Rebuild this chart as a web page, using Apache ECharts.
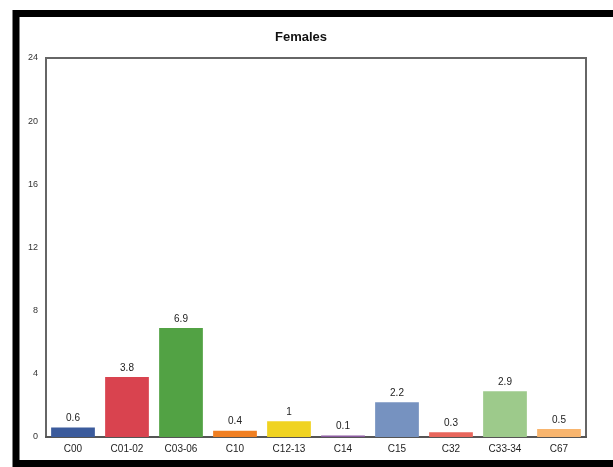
<!DOCTYPE html>
<html><head><meta charset="utf-8">
<script src="https://cdn.jsdelivr.net/npm/echarts@6/dist/echarts.min.js"></script>
<style>html,body{margin:0;padding:0;background:#fff}#c{width:613px;height:467px}</style>
</head><body><div id="c"></div>
<script>
const categories = ['C00','C01-02','C03-06','C10','C12-13','C14','C15','C32','C33-34','C67'];
const values = [0.6, 3.8, 6.9, 0.4, 1, 0.1, 2.2, 0.3, 2.9, 0.5];
const barColors = ['#3b5b9c','#d9434f','#52a244','#f07f22','#f0d321','#8b5aa0','#7692c0','#e8665c','#9dca8b','#f8b56e'];
const yTicks = [0, 4, 8, 12, 16, 20, 24];
const chart = echarts.init(document.getElementById('c'));
chart.setOption({
  backgroundColor: '#fff',
  animation: false,
  title: { text: 'Females', left: 296, top: 26, textAlign: 'center',
    textStyle: { fontFamily: 'Liberation Sans', fontSize: 13, fontWeight: 'bold', color: '#111' } },
  graphic: [{ type: 'rect', shape: { x: 16, y: 13.5, width: 700, height: 450 },
    style: { fill: 'none', stroke: '#000', lineWidth: 7 }, silent: true }],
  grid: { left: 46, right: 27, top: 58, bottom: 30, show: true, borderColor: '#666', borderWidth: 2, backgroundColor: 'transparent' },
  xAxis: { type: 'category', data: categories,
    axisLine: { lineStyle: { color: '#555', width: 2 } }, axisTick: { show: false },
    axisLabel: { fontFamily: 'Liberation Sans', fontSize: 10, color: '#222', margin: 7 } },
  yAxis: { type: 'value', min: yTicks[0], max: yTicks[yTicks.length-1], interval: 4,
    splitLine: { show: false }, axisLine: { show: false }, axisTick: { show: false },
    axisLabel: { fontFamily: 'Liberation Sans', fontSize: 9, color: '#333', margin: 8 } },
  series: [{ type: 'bar', barCategoryGap: '19%',
    data: values.map((v, i) => ({ value: v, itemStyle: { color: barColors[i] } })),
    label: { show: true, position: 'top', distance: 4, fontFamily: 'Liberation Sans', fontSize: 10, color: '#222' } }]
});
</script></body></html>
